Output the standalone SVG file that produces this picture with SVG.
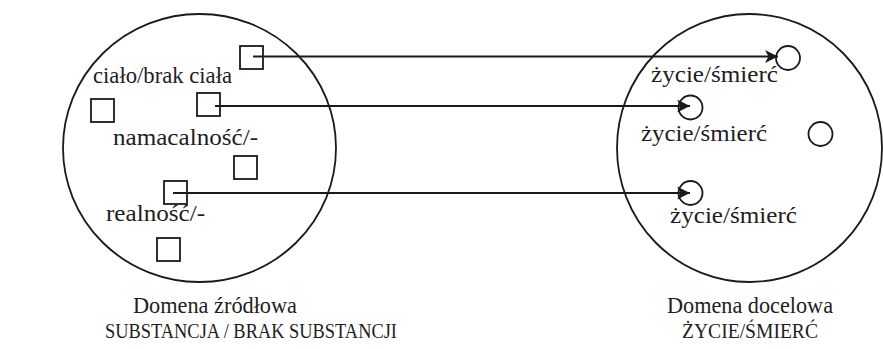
<svg xmlns="http://www.w3.org/2000/svg" width="883" height="349" viewBox="0 0 883 349">
<style>
.dom{fill:none;stroke:#1a1a1a;stroke-width:1.8}
.sq{fill:none;stroke:#1a1a1a;stroke-width:1.8}
.ci{fill:none;stroke:#1a1a1a;stroke-width:1.8}
text{font-family:'Liberation Serif','DejaVu Serif',serif;fill:#1e1e1e}
.t{font-size:24px}
.sc{font-size:20px}
.arr{fill:none;stroke:#1a1a1a;stroke-width:2}
</style>
<defs>
<marker id="ah" markerUnits="userSpaceOnUse" markerWidth="14" markerHeight="14" refX="13" refY="6.5" orient="auto">
<path d="M0,0 L13,6.5 L0,13 L3.5,6.5 Z" fill="#1a1a1a"/>
</marker>
</defs>
<g id="source-domain">
<ellipse class="dom" cx="199.5" cy="148" rx="136.5" ry="134"/>
</g>
<g id="target-domain">
<ellipse class="dom" cx="749.5" cy="148" rx="132.5" ry="134"/>
</g>
<g id="src-sq1"><rect class="sq" x="240" y="46" width="23" height="23"/></g>
<g id="src-sq2"><rect class="sq" x="197" y="93" width="23" height="23"/></g>
<g id="src-sq3"><rect class="sq" x="234" y="156" width="23" height="23"/></g>
<g id="src-sq4"><rect class="sq" x="164" y="181" width="23" height="23"/></g>
<g id="src-sq5"><rect class="sq" x="91" y="99" width="23" height="23"/></g>
<g id="src-sq6"><rect class="sq" x="157" y="238" width="23" height="23"/></g>
<g id="src-labels">
<text class="t" x="93" y="83" textLength="139" lengthAdjust="spacingAndGlyphs">ciało/brak ciała</text>
<text class="t" x="113" y="145" textLength="145" lengthAdjust="spacingAndGlyphs">namacalność/-</text>
<text class="t" x="106" y="221" textLength="99" lengthAdjust="spacingAndGlyphs">realność/-</text>
</g>
<g id="tgt-c1"><circle class="ci" cx="788" cy="58" r="12"/></g>
<g id="tgt-c2"><circle class="ci" cx="690.5" cy="107.5" r="12"/></g>
<g id="tgt-c3"><circle class="ci" cx="690.5" cy="193" r="12"/></g>
<g id="tgt-c4"><circle class="ci" cx="820.5" cy="134" r="12"/></g>
<g id="tgt-labels">
<text class="t" x="651" y="82" textLength="127" lengthAdjust="spacingAndGlyphs">życie/śmierć</text>
<text class="t" x="641" y="141" textLength="126" lengthAdjust="spacingAndGlyphs">życie/śmierć</text>
<text class="t" x="670" y="223" textLength="127" lengthAdjust="spacingAndGlyphs">życie/śmierć</text>
</g>
<g id="connectors">
<line class="arr" x1="253" y1="56.5" x2="778" y2="56.5" marker-end="url(#ah)"/>
<line class="arr" x1="215" y1="106" x2="690" y2="106" marker-end="url(#ah)"/>
<line class="arr" x1="173" y1="193" x2="690" y2="193" marker-end="url(#ah)"/>
</g>
<g id="captions">
<text class="t" x="133" y="313" textLength="164" lengthAdjust="spacingAndGlyphs">Domena źródłowa</text>
<text class="sc" x="105" y="338" textLength="292" lengthAdjust="spacingAndGlyphs">SUBSTANCJA / BRAK SUBSTANCJI</text>
<text class="t" x="667" y="313" textLength="166" lengthAdjust="spacingAndGlyphs">Domena docelowa</text>
<text class="sc" x="682" y="338" textLength="136" lengthAdjust="spacingAndGlyphs">ŻYCIE/ŚMIERĆ</text>
</g>
</svg>
